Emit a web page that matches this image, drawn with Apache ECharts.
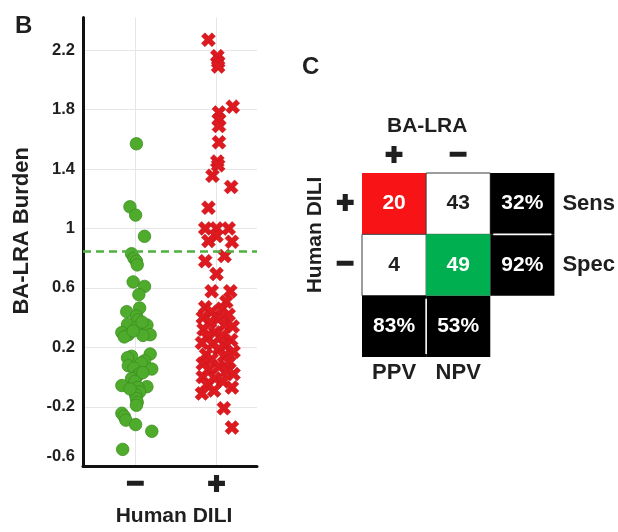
<!DOCTYPE html>
<html>
<head>
<meta charset="utf-8">
<script src="https://cdn.jsdelivr.net/npm/echarts@6/dist/echarts.min.js"></script>
<style>
  html, body { margin: 0; padding: 0; background: #fff; }
  #chart { width: 618px; height: 532px; }
</style>
</head>
<body>
<div id="chart"></div>
<script>
// ---- Panel B: BA-LRA burden by human DILI outcome ----
const groupNames = ['−', '+'];          // x positions 1 and 2
const burdenThreshold = 0.85;

// DILI-negative compounds (green circles): burden value and horizontal jitter
const negValues = [1.57, 1.146, 1.09, 0.947, 0.83, 0.80, 0.78, 0.755, 0.64, 0.61,
  0.555, 0.465, 0.44, 0.41, 0.385, 0.355, 0.35, 0.335, 0.30, 0.285,
  0.285, 0.28, 0.27, 0.31, 0.155, 0.14, 0.13, 0.11, 0.095, 0.076,
  0.06, 0.054, 0.02, 0.0, -0.01, -0.03, -0.057, -0.065, -0.07, -0.10,
  -0.12, -0.145, -0.17, -0.19, -0.244, -0.265, -0.29, -0.32, -0.365, -0.487,
  0.37, 0.03, -0.08];
const negJitter = [0.01, -0.07, 0.00, 0.11, -0.05, -0.02, 0.01, 0.02, -0.03, 0.11,
  0.04, 0.05, -0.11, 0.01, 0.03, -0.10, 0.14, 0.01, -0.17, -0.09,
  0.18, 0.09, -0.14, -0.03, 0.18, -0.05, -0.10, 0.11, 0.07, -0.09,
  -0.02, 0.20, 0.04, 0.01, -0.05, -0.01, -0.17, 0.14, 0.03, 0.05,
  0.00, 0.01, 0.02, 0.01, -0.17, -0.14, -0.12, 0.00, 0.20, -0.16,
  0.08, 0.09, -0.07];

// DILI-positive compounds (red crosses)
const posValues = [2.27, 2.16, 2.12, 2.09, 1.82, 1.78, 1.73, 1.69, 1.58, 1.45,
  1.425, 1.355, 1.28, 1.14, 1.0, 1.0, 1.0, 0.95, 0.915, 0.91,
  0.815, 0.78, 0.694, 0.577, 0.577, 0.506,
  0.47, 0.46, 0.44, 0.42, 0.40, 0.39, 0.37, 0.35, 0.34, 0.32,
  0.30, 0.28, 0.27, 0.25, 0.23, 0.22, 0.21, 0.19, 0.17, 0.15,
  0.14, 0.12, 0.10, 0.09, 0.07, 0.05, 0.04, 0.02, 0.00, -0.01,
  -0.03, -0.05, -0.07, -0.09, -0.11, -0.21, -0.34];
const posJitter = [-0.10, 0.01, 0.02, 0.02, 0.20, 0.03, 0.03, 0.03, 0.03, 0.01,
  0.02, -0.05, 0.18, -0.10, -0.14, 0.00, 0.15, 0.00, -0.10, 0.19,
  0.10, -0.14, 0.00, -0.06, 0.17, 0.12,
  -0.14, 0.07, -0.06, 0.15, -0.17, 0.02, -0.08, 0.10, 0.20, -0.16,
  -0.02, 0.07, -0.12, 0.18, -0.18, -0.05, 0.11, 0.03, 0.21, -0.13,
  0.09, -0.06, 0.16, -0.17, 0.03, -0.10, 0.13, 0.21, -0.17, -0.02,
  0.08, -0.12, 0.19, -0.03, -0.18, 0.09, 0.19];

// ---- Panel C: BA-LRA call vs human DILI ----
const matrixCols = ['+', '−'];           // BA-LRA call
const matrixRows = ['+', '−'];           // human DILI
const cellCounts = [[20, 43], [4, 49]];
const rowStatNames = ['Sens', 'Spec'];
const rowStats = ['32%', '92%'];
const colStatNames = ['PPV', 'NPV'];
const colStats = ['83%', '53%'];

const FONT = '"Liberation Sans", Arial, sans-serif';
const INK = '#1f1f1f';
const RED = '#f81416';
const GREEN = '#00b050';

// Build the 3x3 matrix layout (counts + summary statistics)
const cells = [];
for (let r = 0; r < 2; r++) {
  for (let c = 0; c < 2; c++) {
    const diag = r === c;
    cells.push({
      value: [c, r],
      label: String(cellCounts[r][c]),
      fill: diag ? (r === 0 ? RED : GREEN) : '#ffffff',
      stroke: diag ? null : '#3a3a3a',
      textColor: diag ? '#ffffff' : INK,
      divider: null
    });
  }
}
for (let r = 0; r < 2; r++) {
  cells.push({ value: [2, r], label: rowStats[r], fill: '#000', stroke: null,
    textColor: '#ffffff', divider: r > 0 ? 'top' : null });
}
for (let c = 0; c < 2; c++) {
  cells.push({ value: [c, 2], label: colStats[c], fill: '#000', stroke: null,
    textColor: '#ffffff', divider: c > 0 ? 'left' : null });
}

function renderCell(params, api) {
  const cell = cells[params.dataIndex];
  const center = api.coord([api.value(0), api.value(1)]);
  const size = api.size([1, 1]);
  const w = size[0], h = size[1];
  const x = center[0] - w / 2, y = center[1] - h / 2;
  const children = [{
    type: 'rect',
    shape: { x: x, y: y, width: w, height: h },
    style: { fill: cell.fill, stroke: cell.stroke || cell.fill, lineWidth: cell.stroke ? 1 : 0 }
  }, {
    type: 'text',
    style: {
      text: cell.label, x: center[0], y: center[1], align: 'center', verticalAlign: 'middle',
      fill: cell.textColor, font: 'bold 21px ' + FONT
    }
  }];
  if (cell.divider === 'top') {
    children.push({ type: 'line', shape: { x1: x + 3, y1: y, x2: x + w - 3, y2: y },
      style: { stroke: '#ffffff', lineWidth: 1.6 } });
  } else if (cell.divider === 'left') {
    children.push({ type: 'line', shape: { x1: x, y1: y + 3, x2: x, y2: y + h - 3 },
      style: { stroke: '#ffffff', lineWidth: 1.6 } });
  }
  return { type: 'group', children: children };
}

const crossPath = 'path://M0,2.5L2.5,0L5,2.5L7.5,0L10,2.5L7.5,5L10,7.5L7.5,10L5,7.5L2.5,10L0,7.5L2.5,5Z';

const signLabel = {
  fontSize: 30, fontWeight: 'bold', fontFamily: FONT, color: INK,
  textBorderColor: INK, textBorderWidth: 1.8
};
const nameStyle = { fontSize: 21, fontWeight: 'bold', fontFamily: FONT, color: INK };

const chart = echarts.init(document.getElementById('chart'), null, { renderer: 'canvas' });

chart.setOption({
  backgroundColor: '#ffffff',
  animation: false,
  title: [
    { text: 'B', left: 15, top: 14, padding: 0,
      textStyle: { fontSize: 24, fontWeight: 'bold', fontFamily: FONT, color: INK } },
    { text: 'C', left: 302, top: 55, padding: 0,
      textStyle: { fontSize: 24, fontWeight: 'bold', fontFamily: FONT, color: INK } }
  ],
  grid: [
    { left: 83, top: 17.5, width: 174, height: 456.5, containLabel: false },
    { left: 362, top: 173, width: 194, height: 184, containLabel: false }
  ],
  xAxis: [
    {
      gridIndex: 0, type: 'value', min: 0.35, max: 2.5,
      axisLine: { show: true, onZero: false, lineStyle: { color: '#111', width: 3 } },
      axisTick: { show: false, customValues: [1, 2] },
      axisLabel: Object.assign({
        customValues: [1, 2], margin: 4,
        formatter: function (v) { return groupNames[Math.round(v) - 1]; }
      }, signLabel),
      splitLine: { show: true, lineStyle: { color: '#e6e6e6', width: 1 } },
      name: 'Human DILI', nameLocation: 'middle', nameGap: 38,
      nameTextStyle: Object.assign({ padding: [0, 0, 0, 8] }, nameStyle)
    },
    {
      gridIndex: 1, type: 'category', position: 'top', data: matrixCols.concat(['']),
      axisLine: { show: false }, axisTick: { show: false },
      axisLabel: Object.assign({ margin: 2 }, signLabel),
      splitLine: { show: false },
      name: 'BA-LRA', nameLocation: 'middle', nameGap: 36,
      nameTextStyle: Object.assign({ padding: [0, 62, 0, 0] }, nameStyle)
    },
    {
      gridIndex: 1, type: 'category', position: 'bottom', data: colStatNames.concat(['']),
      axisLine: { show: false }, axisTick: { show: false },
      axisLabel: Object.assign({ margin: 5 }, nameStyle, { fontSize: 22 }),
      splitLine: { show: false }
    }
  ],
  yAxis: [
    {
      gridIndex: 0, type: 'value', min: -0.6, max: 2.42, interval: 0.4,
      axisLine: { show: true, onZero: false, lineStyle: { color: '#111', width: 3 } },
      axisTick: { show: false },
      axisLabel: {
        showMaxLabel: false, margin: 8,
        fontSize: 16.5, fontWeight: 'bold', fontFamily: FONT, color: INK,
        formatter: function (v) {
          const t = String(Math.round(v * 10) / 10);
          return Math.abs(v + 0.6) < 1e-6 ? '{low|' + t + '}' : t;
        },
        rich: { low: { fontSize: 16.5, fontWeight: 'bold', fontFamily: FONT, color: INK,
          padding: [0, 0, 20, 0] } }
      },
      splitLine: { show: true, showMinLine: false, showMaxLine: false,
        lineStyle: { color: '#e6e6e6', width: 1 } },
      name: 'BA-LRA Burden', nameLocation: 'middle', nameGap: 50,
      nameTextStyle: Object.assign({ padding: [0, 0, 0, 22] }, nameStyle, { fontSize: 22 })
    },
    {
      gridIndex: 1, type: 'category', inverse: true, position: 'left',
      data: matrixRows.concat(['']),
      axisLine: { show: false }, axisTick: { show: false },
      axisLabel: Object.assign({ margin: 8 }, signLabel),
      splitLine: { show: false },
      name: 'Human DILI', nameLocation: 'middle', nameGap: 36,
      nameTextStyle: Object.assign({ padding: [0, 0, 0, 60] }, nameStyle)
    },
    {
      gridIndex: 1, type: 'category', inverse: true, position: 'right',
      data: rowStatNames.concat(['']),
      axisLine: { show: false }, axisTick: { show: false },
      axisLabel: Object.assign({ margin: 8 }, nameStyle, { fontSize: 22 }),
      splitLine: { show: false }
    }
  ],
  series: [
    {
      name: 'DILI negative', type: 'scatter', xAxisIndex: 0, yAxisIndex: 0,
      symbol: 'circle', symbolSize: 12.5,
      itemStyle: { color: '#4fab2c', borderColor: '#3c8f1f', borderWidth: 0.8, opacity: 1 },
      data: negValues.map(function (v, i) { return [1 + negJitter[i], v]; }),
      markLine: {
        silent: true, symbol: 'none', label: { show: false },
        lineStyle: { color: '#4fb040', type: [8, 5], width: 2.6 },
        data: [{ yAxis: burdenThreshold }]
      },
      z: 3
    },
    {
      name: 'DILI positive', type: 'scatter', xAxisIndex: 0, yAxisIndex: 0,
      symbol: crossPath, symbolSize: 14,
      itemStyle: { color: '#dc1a1f', borderColor: '#c4121a', borderWidth: 0.5, opacity: 1 },
      data: posValues.map(function (v, i) { return [2 + posJitter[i], v]; }),
      z: 3
    },
    {
      name: 'matrix', type: 'custom', xAxisIndex: 1, yAxisIndex: 1,
      renderItem: renderCell,
      data: cells.map(function (c) { return c.value; }),
      silent: true
    }
  ]
});
</script>
</body>
</html>
